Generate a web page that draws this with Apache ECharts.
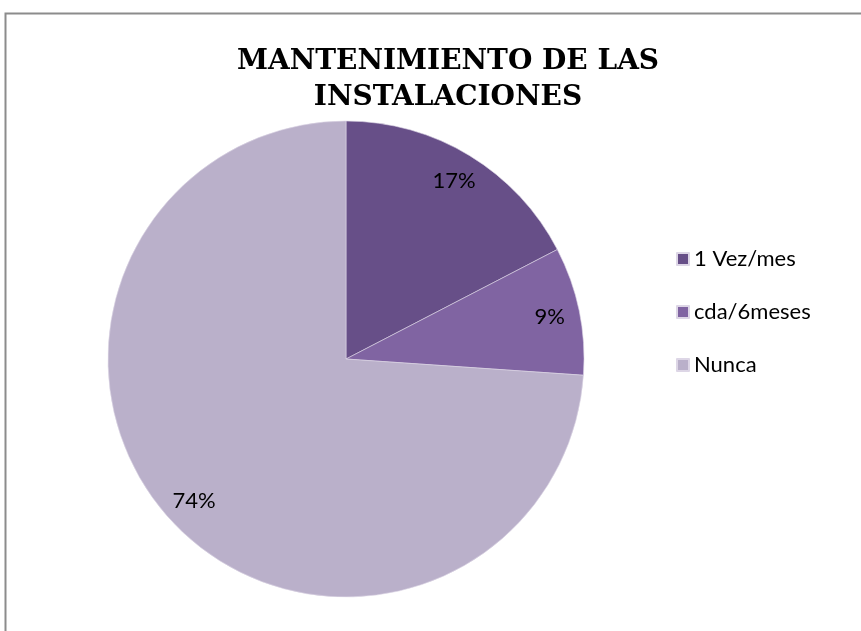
<!DOCTYPE html>
<html lang="es">
<head>
    <meta charset="UTF-8">
    <title>Mantenimiento</title>
    <script src="https://cdn.jsdelivr.net/npm/echarts@6/dist/echarts.min.js"></script>
    <style>
        body { margin: 0; background: #fff; }
        #main { width: 861px; height: 631px; }
    </style>
</head>
<body>
    <div id="main"></div>
    <script type="text/javascript">
        // datos del grafico (respuestas, total 23)
        var categorias = ['1 Vez/mes', 'cda/6meses', 'Nunca'];
        var valores = [4, 2, 17];
        var colores = ['#674f88', '#8064a2', '#bab0ca'];

        var datos = categorias.map(function (c, i) {
            return { name: c, value: valores[i], itemStyle: { color: colores[i] } };
        });

        var myChart = echarts.init(document.getElementById('main'));

        var option = {
            backgroundColor: '#fff',
            animation: false,
            title: {
                text: 'MANTENIMIENTO DE LAS\nINSTALACIONES',
                left: 443,
                textAlign: 'center',
                top: 39,
                textStyle: {
                    fontFamily: 'DejaVu Serif',
                    fontWeight: 'bold',
                    fontSize: 28,
                    lineHeight: 36,
                    color: '#000'
                }
            },
            graphic: [{
                type: 'rect',
                shape: { x: 5.5, y: 13.5, width: 900, height: 700 },
                style: { fill: 'none', stroke: '#8c8c8c', lineWidth: 2 },
                silent: true
            }],
            legend: {
                orient: 'vertical',
                left: 676,
                top: 248,
                padding: 0,
                itemWidth: 12,
                itemHeight: 12,
                itemGap: 31,
                icon: 'rect',
                textStyle: { fontFamily: 'Lato', fontSize: 22, color: '#000' },
                data: categorias
            },
            series: [
                {
                    type: 'pie',
                    center: [346, 359],
                    radius: [0, 238],
                    startAngle: 90,
                    clockwise: true,
                    silent: true,
                    itemStyle: { borderColor: '#ddd6e6', borderWidth: 0.6 },
                    label: { show: false },
                    labelLine: { show: false },
                    data: datos
                },
                {
                    // solo para las etiquetas
                    type: 'pie',
                    center: [346, 359],
                    radius: [172, 238],
                    startAngle: 90,
                    clockwise: true,
                    silent: true,
                    percentPrecision: 0,
                    legendHoverLink: false,
                    itemStyle: { color: 'rgba(0,0,0,0)' },
                    label: {
                        show: true,
                        position: 'inside',
                        formatter: '{d}%',
                        fontFamily: 'Lato',
                        fontSize: 22,
                        color: '#000'
                    },
                    labelLine: { show: false },
                    data: categorias.map(function (c, i) {
                        return { name: c + ' ', value: valores[i] };
                    })
                }
            ]
        };

        myChart.setOption(option);
    </script>
</body>
</html>
